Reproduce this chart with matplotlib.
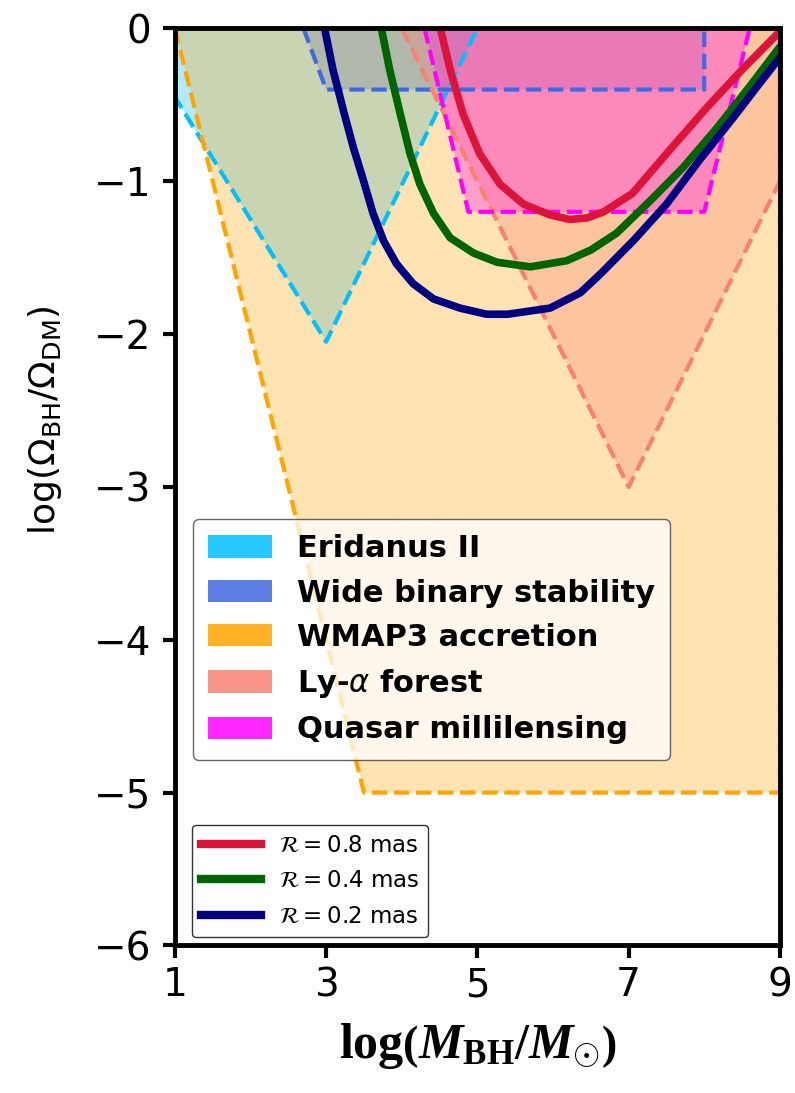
import matplotlib.pyplot as plt
from matplotlib.patches import Patch
from matplotlib.lines import Line2D

plt.rcParams['mathtext.rm'] = 'Liberation Serif:bold'
plt.rcParams['mathtext.it'] = 'Liberation Serif:bold:italic'
plt.rcParams['mathtext.bf'] = 'Liberation Serif:bold'

# Regiones de exclusion (vertices de cada poligono)
eridanus_x = [1, 1, 3, 5]
eridanus_y = [0, -0.45, -2.05, 0]
binaria_x = [2.7, 3.0, 8.0, 8.0]
binaria_y = [0, -0.4, -0.4, 0]
wmap3_x = [1, 3.5, 9, 9]
wmap3_y = [0, -5, -5, 0]
lya_x = [4.0, 7.0, 9.0, 9.0]
lya_y = [0, -3.0, -1.0, 0]
quasar_x = [4.3, 4.88, 8.0, 8.6]
quasar_y = [0, -1.2, -1.2, 0]

# Curvas para distintos valores de R
r08_x = [4.51, 4.64, 4.81, 5.03, 5.30, 5.61, 5.96, 6.22, 6.45, 6.67, 7.05, 7.5, 8.03, 8.5, 9.0]
r08_y = [0, -0.27, -0.56, -0.82, -1.02, -1.15, -1.22, -1.25, -1.24, -1.2, -1.08, -0.82, -0.52, -0.27, -0.02]
r04_x = [3.73, 3.84, 3.98, 4.11, 4.24, 4.42, 4.64, 4.95, 5.26, 5.7, 6.18, 6.5, 6.84, 7.28, 7.72, 8.17, 8.6, 9.0]
r04_y = [0, -0.27, -0.56, -0.82, -1.02, -1.21, -1.37, -1.47, -1.53, -1.56, -1.52, -1.45, -1.34, -1.13, -0.91, -0.65, -0.38, -0.12]
r02_x = [2.98, 3.09, 3.23, 3.36, 3.49, 3.62, 3.76, 3.93, 4.15, 4.42, 4.77, 5.12, 5.4, 5.96, 6.36, 6.62, 7.06, 7.5, 7.94, 8.39, 8.7, 9.0]
r02_y = [0, -0.27, -0.54, -0.78, -0.99, -1.21, -1.39, -1.54, -1.67, -1.77, -1.83, -1.87, -1.87, -1.83, -1.73, -1.61, -1.39, -1.15, -0.86, -0.58, -0.38, -0.19]

regiones = [
    (eridanus_x, eridanus_y, 'deepskyblue', 'Eridanus II'),
    (binaria_x, binaria_y, 'royalblue', 'Wide binary stability'),
    (wmap3_x, wmap3_y, 'orange', 'WMAP3 accretion'),
    (lya_x, lya_y, 'salmon', r'Ly-$\alpha$ forest'),
    (quasar_x, quasar_y, 'magenta', 'Quasar millilensing'),
]

fig = plt.figure(figsize=(7.95, 10.93), dpi=100)
ax = fig.add_axes([0.22, 0.135, 0.761, 0.839])

parches = []
for xs, ys, c, nombre in regiones:
    ax.fill(xs, ys, color=c, alpha=0.3, lw=0)
    ax.plot(xs, ys, color=c, lw=3, ls='--')
    parches.append(Patch(facecolor=c, alpha=0.85, edgecolor='none', label=nombre))

for xs, ys, c in [(r08_x, r08_y, 'crimson'), (r04_x, r04_y, 'darkgreen'), (r02_x, r02_y, 'navy')]:
    ax.plot(xs, ys, color=c, lw=5.5, solid_capstyle='round', solid_joinstyle='round')

ax.set_xlim(1, 9)
ax.set_ylim(-6, 0)
ax.set_xticks([1, 3, 5, 7, 9])
ax.set_yticks([-6, -5, -4, -3, -2, -1, 0])
ax.tick_params(labelsize=28, width=3, length=9)
ax.tick_params(axis='y', pad=8)
ax.tick_params(axis='x', pad=6)
for s in ax.spines.values():
    s.set_linewidth(3.5)

ax.set_ylabel(r'$\mathrm{log}\left(\Omega_{\mathrm{BH}}/\Omega_{\mathrm{DM}}\right)$', fontsize=26)
ax.yaxis.set_label_coords(-0.183, 0.573)
ax.set_xlabel(r'$\mathrm{log}\left(M_{\mathrm{BH}}/M_{\odot}\right)$', fontsize=36,
              math_fontfamily='custom', labelpad=12)

leg1 = ax.legend(handles=parches, loc='upper left', bbox_to_anchor=(0.03, 0.465),
                 borderaxespad=0, prop={'weight': 'bold', 'size': 22},
                 handlelength=2.1, handleheight=0.75, framealpha=0.75,
                 edgecolor='#333333', borderpad=0.5, labelspacing=0.5)
ax.add_artist(leg1)

lineas = [Line2D([], [], color='crimson', lw=6, label=r'$\mathcal{R} = 0.8$ mas'),
          Line2D([], [], color='darkgreen', lw=6, label=r'$\mathcal{R} = 0.4$ mas'),
          Line2D([], [], color='navy', lw=6, label=r'$\mathcal{R} = 0.2$ mas')]
leg2 = ax.legend(handles=lineas, loc='lower left', bbox_to_anchor=(0.028, 0.009),
                 borderaxespad=0, fontsize=16.5, handlelength=2.6, labelspacing=0.55,
                 framealpha=1, edgecolor='#333333')

plt.savefig('out.png')
